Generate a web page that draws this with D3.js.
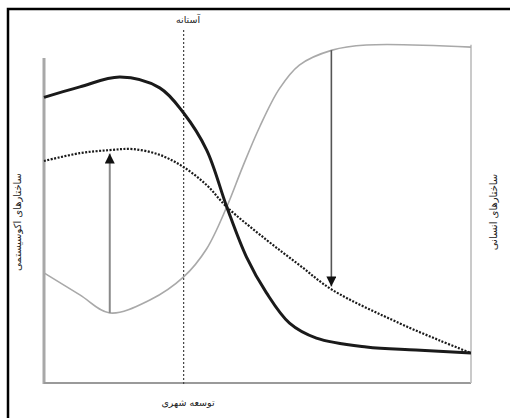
<!DOCTYPE html>
<html><head><meta charset="utf-8">
<script src="https://cdn.jsdelivr.net/npm/d3@7"></script>
<style>body{margin:0;background:#fff}svg{display:block}</style>
</head><body>
<script>
// Data (x: urban development 0-100, y: relative level 0-100)
const ecoStructureX   = [0, 8.4, 17.8, 27.1, 32.7, 38.1, 42.8, 47.4, 52.1, 57.5, 63.8, 75.5, 87.1, 100];
const ecoStructureY   = [84, 87.1, 90, 86.8, 79.4, 68.5, 51.8, 37.1, 26.5, 17.6, 13.2, 10.6, 9.7, 8.8];
const ecoFunctionX    = [0, 8.4, 15.4, 20.8, 27.1, 32.7, 38.1, 42.8, 52.1, 59.8, 67.5, 83.2, 92.5, 100];
const ecoFunctionY    = [65.3, 67.6, 68.5, 68.8, 67.1, 63.5, 58.2, 51.8, 42.1, 34.7, 27.4, 17.6, 12.6, 8.8];
const humanStructX    = [0, 8.4, 15.4, 24.8, 32.7, 38.1, 42.8, 46.5, 50.5, 55.1, 59.8, 67.5, 75.5, 100];
const humanStructY    = [32.4, 25.9, 20.6, 24.4, 31.2, 39.5, 51.8, 63.5, 75.3, 86.5, 93.5, 97.9, 99.4, 98.8];
const thresholdX      = 32.7;
const arrowUp         = {x: 15.4, from: 20.6, to: 67.5};
const arrowDown       = {x: 67.3, from: 97.9, to: 28.4};
const labelTop        = "آستانه";
const labelBottom     = "توسعه شهری";
const labelLeft       = "ساختارهای اکوسیستمی";
const labelRight      = "ساختارهای انسانی";

const W = 510, H = 418;
const svg = d3.select("body").append("svg").attr("width", W).attr("height", H);

const x = d3.scaleLinear().domain([0, 100]).range([44, 471]);
const y = d3.scaleLinear().domain([0, 100]).range([383, 43]);

// outer frame (extends past the right/bottom edges)
svg.append("rect").attr("x", 8).attr("y", 9).attr("width", W + 20).attr("height", H + 20)
  .attr("fill", "none").attr("stroke", "#000").attr("stroke-width", 2.5);

const defs = svg.append("defs");
defs.append("marker").attr("id", "tri").attr("viewBox", "0 0 10 10")
  .attr("refX", 10).attr("refY", 5).attr("markerWidth", 10).attr("markerHeight", 10)
  .attr("markerUnits", "userSpaceOnUse").attr("orient", "auto")
  .append("path").attr("d", "M0,0 L10,5 L0,10 Z").attr("fill", "#111");

// axes
svg.append("line").attr("x1", x(0)).attr("x2", x(0)).attr("y1", 58).attr("y2", y(0) + 1)
  .attr("stroke", "#a8a8a8").attr("stroke-width", 3);
svg.append("line").attr("x1", x(0)).attr("x2", x(100)).attr("y1", y(0)).attr("y2", y(0))
  .attr("stroke", "#9a9a9a").attr("stroke-width", 2);
svg.append("line").attr("x1", x(100)).attr("x2", x(100)).attr("y1", y(99.5)).attr("y2", y(0))
  .attr("stroke", "#bdbdbd").attr("stroke-width", 1.6);

// threshold
svg.append("line").attr("x1", x(thresholdX)).attr("x2", x(thresholdX)).attr("y1", 30).attr("y2", y(0) + 3)
  .attr("stroke", "#444").attr("stroke-width", 1.2).attr("stroke-dasharray", "2,2");

const line = d3.line().x(d => x(d[0])).y(d => y(d[1])).curve(d3.curveCatmullRom.alpha(0.5));

svg.append("path").datum(d3.zip(humanStructX, humanStructY)).attr("d", line)
  .attr("fill", "none").attr("stroke", "#a9a9a9").attr("stroke-width", 1.6);
svg.append("path").datum(d3.zip(ecoFunctionX, ecoFunctionY)).attr("d", line)
  .attr("fill", "none").attr("stroke", "#1a1a1a").attr("stroke-width", 2.2).attr("stroke-dasharray", "2,1.5");
svg.append("path").datum(d3.zip(ecoStructureX, ecoStructureY)).attr("d", line)
  .attr("fill", "none").attr("stroke", "#1a1a1a").attr("stroke-width", 3);

// arrows
svg.append("line").attr("x1", x(arrowUp.x)).attr("x2", x(arrowUp.x))
  .attr("y1", y(arrowUp.from)).attr("y2", y(arrowUp.to))
  .attr("stroke", "#8a8a8a").attr("stroke-width", 2).attr("marker-end", "url(#tri)");
svg.append("line").attr("x1", x(arrowDown.x)).attr("x2", x(arrowDown.x))
  .attr("y1", y(arrowDown.from)).attr("y2", y(arrowDown.to))
  .attr("stroke", "#555").attr("stroke-width", 1.6).attr("marker-end", "url(#tri)");

// labels
const font = "DejaVu Sans";
svg.append("text").attr("x", 188).attr("y", 23).attr("text-anchor", "middle")
  .attr("font-family", font).attr("font-size", 9.5).attr("fill", "#222").attr("direction", "rtl").text(labelTop);
svg.append("text").attr("x", 188).attr("y", 406).attr("text-anchor", "middle")
  .attr("font-family", font).attr("font-size", 9.5).attr("fill", "#222").attr("direction", "rtl").text(labelBottom);
svg.append("text").attr("transform", "translate(21,222) rotate(-90)").attr("text-anchor", "middle")
  .attr("font-family", font).attr("font-size", 10).attr("fill", "#222").attr("direction", "rtl").text(labelLeft);
svg.append("text").attr("transform", "translate(497,212) rotate(-90)").attr("text-anchor", "middle")
  .attr("font-family", font).attr("font-size", 10).attr("fill", "#222").attr("direction", "rtl").text(labelRight);
</script>
</body></html>
